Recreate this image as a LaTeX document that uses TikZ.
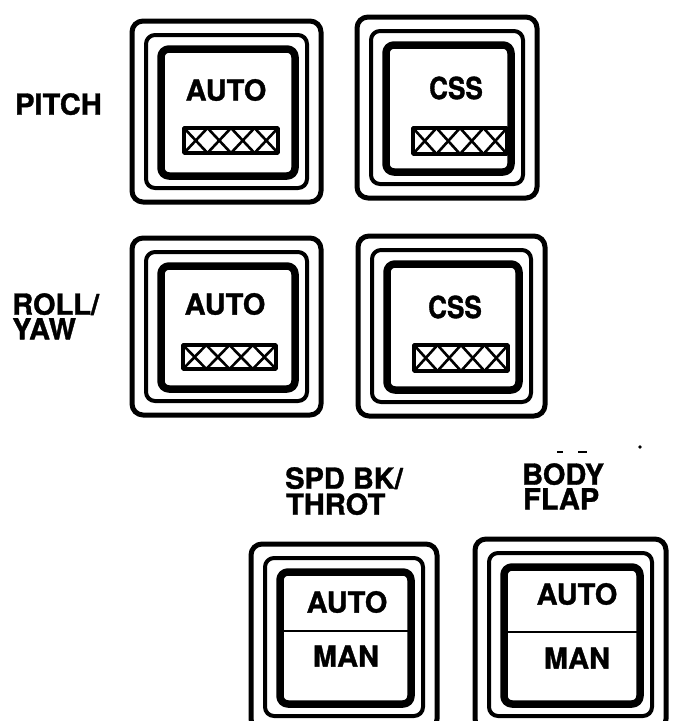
\documentclass[tikz,border=0pt]{standalone}
\usepackage{fontspec}
\setmainfont[BoldFeatures={FakeBold=1.2}]{TeX Gyre Heros}
\newcommand\swbox[5]{%
  \draw[outerln] (#2,#3) rectangle (#4,#5);
  \draw[ringln] ({#2+14},{#3+14}) rectangle ({#4-14},{#5-14});
  \draw[frameln] ({#2+29},{#3+28}) rectangle ({#4-26},{#5-26});
  \coordinate (#1) at ({(#2+#4)/2},{(#3+#5)/2});
}
\newcommand\xbar[4]{%
  \draw[barln] (#1,#2) rectangle (#3,#4);
  \foreach \i in {0,1,2,3}{%
    \pgfmathsetmacro\xa{#1+\i*(#3-#1)/4}%
    \pgfmathsetmacro\xb{#1+(\i+1)*(#3-#1)/4}%
    \draw[xln] (\xa,#2) -- (\xb,#4) (\xa,#4) -- (\xb,#2);
  }
}
\begin{document}
\begin{tikzpicture}[x=1pt,y=-1pt, line join=round,
  outerln/.style={line width=5pt, rounded corners=11pt},
  ringln/.style={line width=4pt, rounded corners=9pt},
  frameln/.style={line width=7.5pt, rounded corners=8pt},
  lbl/.style={font=\fontsize{29}{26}\selectfont\bfseries, inner sep=0pt, anchor=north west},
  captext/.style={font=\fontsize{29}{26}\selectfont\bfseries, inner sep=0pt},
  barln/.style={line width=3.5pt},
  xln/.style={line width=2.6pt},
  divln/.style={line width=2.5pt}]
\useasboundingbox (0,0) rectangle (674,721);
\clip (0,0) rectangle (674,721);

% labels
\node[lbl] (pitch) at (15,93) {PITCH};
\node[lbl] (roll) at (12,293) {ROLL/};
\node[lbl] (yaw) at (12,318) {YAW};
\node[lbl] (spdbk) at (285,467) {SPD BK/};
\node[lbl] (throt) at (286,493) {THROT};
\node[lbl] (body) at (522,463) {BODY};
\node[lbl] (flap) at (523,488) {FLAP};
\coordinate (d1a) at (557,452); \coordinate (d1b) at (563,452);
\coordinate (d2a) at (578,452); \coordinate (d2b) at (587,452);
\draw[line width=2pt] (d1a) -- (d1b) (d2a) -- (d2b);
\fill (640,447) circle (1.8);

% pitch row
\swbox{a1}{132}{21}{321}{202}
\node[captext] (a1t) at (226,90) {AUTO};
\xbar{184}{128}{278}{153}
\swbox{c1}{357}{17}{537}{198}
\node[captext] (c1t) at (456,88) {\scalebox{0.9}[1.05]{CSS}};
\xbar{413}{128}{507}{154}

% roll/yaw row
\swbox{a2}{132}{238}{321}{415}
\node[captext] (a2t) at (225,304) {AUTO};
\xbar{183}{345}{276}{369}
\swbox{c2}{358}{236}{545}{416}
\node[captext] (c2t) at (455,307) {\scalebox{0.9}[1.05]{CSS}};
\xbar{414}{345}{508}{371}

% speed brake / throttle
\swbox{s}{251}{544}{437}{730}
\coordinate (sdl) at (283,631); \coordinate (sdr) at (408,631);
\draw[divln] (sdl) -- (sdr);
\node[captext] (sauto) at (347,602) {AUTO};
\node[captext] (sman) at (346,656) {MAN};

% body flap
\swbox{b}{475}{539}{666}{730}
\coordinate (bdl) at (507,632); \coordinate (bdr) at (640,632);
\draw[divln] (bdl) -- (bdr);
\node[captext] (bauto) at (577,594) {AUTO};
\node[captext] (bman) at (577,658) {MAN};
\end{tikzpicture}
\end{document}
